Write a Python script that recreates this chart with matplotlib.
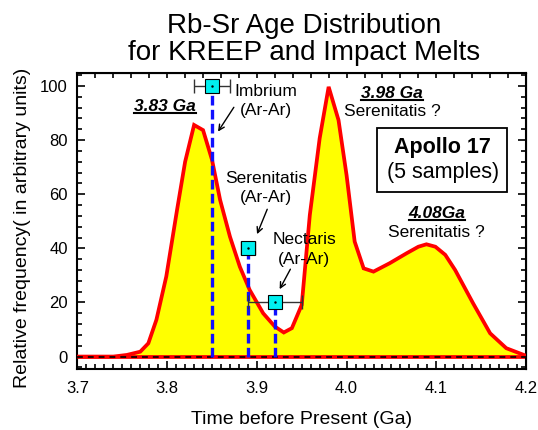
import matplotlib
matplotlib.use('Agg')
import matplotlib.pyplot as plt
from matplotlib.lines import Line2D
from matplotlib.patches import Rectangle
from matplotlib.ticker import MultipleLocator

plt.rcParams['font.family'] = ['Liberation Sans', 'DejaVu Sans']

# Rb-Sr age distribution curve (Ga, relative frequency)
age = [3.70, 3.74, 3.755, 3.770, 3.779, 3.788, 3.799, 3.811, 3.820, 3.830,
       3.840, 3.850, 3.859, 3.870, 3.881, 3.892, 3.907, 3.920, 3.930, 3.939,
       3.950, 3.959, 3.970, 3.980, 3.991, 4.000, 4.009, 4.019, 4.030, 4.048,
       4.067, 4.080, 4.089, 4.099, 4.110, 4.121, 4.141, 4.160, 4.178, 4.200]
freq = [0.0, 0.0, 0.6, 1.8, 4.9, 13.6, 29.6, 54.2, 72.0, 85.6,
        83.7, 72.7, 57.9, 44.3, 33.2, 24.6, 16.0, 11.1, 8.9, 10.5,
        19.1, 52.3, 80.7, 99.7, 87.4, 67.0, 42.5, 32.6, 31.4, 34.5,
        38.2, 40.6, 41.5, 40.6, 37.6, 32.0, 19.7, 8.6, 3.1, 0.3]

# Ar-Ar basin ages
basins = ['Imbrium', 'Serenitatis', 'Nectaris']
basin_age = [3.85, 3.89, 3.92]
basin_err = [0.02, 0.008, 0.03]
basin_y = [100, 40, 20]

fig = plt.figure(figsize=(5.38, 4.30), dpi=100)
ax = fig.add_axes([0.144, 0.1412, 0.8337, 0.6883])

ax.fill_between(age, 0, freq, color='#ffff00', lw=0, zorder=1)
ax.axhline(0, color='#ff0000', lw=2.7, zorder=2)
ax.plot(age, freq, color='#ff0000', lw=2.7, zorder=3, solid_joinstyle='miter')
ax.axhline(0, color='black', lw=1.2, ls=(0, (3.5, 3)), zorder=3.5)

for a, e, yv in zip(basin_age, basin_err, basin_y):
    ax.plot([a, a], [0, yv], color='#1010ff', lw=2.4, ls=(0, (2.9, 1.3)), zorder=4)
    ax.errorbar([a], [yv], xerr=[e], fmt='none', ecolor='#333333', elinewidth=1,
                capsize=5, capthick=1, zorder=5)
    ax.plot([a], [yv], marker='s', ms=9.5, mfc='#00f0f0', mec='black', mew=0.8,
            ls='none', zorder=6)
    ax.plot([a], [yv], marker='.', ms=1.5, color='black', ls='none', zorder=7)

fs = 12.5
# basin labels with arrows
ax.text(3.9101, 98.0, 'Imbrium', ha='center', va='center', fontsize=fs)
ax.text(3.9101, 90.9, '(Ar-Ar)', ha='center', va='center', fontsize=fs)
ax.annotate('', xy=(3.855, 82.3), xytext=(3.876, 93.0),
            arrowprops=dict(arrowstyle='->', color='black', lw=1))
ax.text(3.9104, 65.9, 'Serenitatis', ha='center', va='center', fontsize=fs)
ax.text(3.9104, 58.9, '(Ar-Ar)', ha='center', va='center', fontsize=fs)
ax.annotate('', xy=(3.899, 44.3), xytext=(3.9127, 55.4),
            arrowprops=dict(arrowstyle='->', color='black', lw=1))
ax.text(3.9528, 43.1, 'Nectaris', ha='center', va='center', fontsize=fs)
ax.text(3.9528, 35.9, '(Ar-Ar)', ha='center', va='center', fontsize=fs)
ax.annotate('', xy=(3.9239, 24.0), xytext=(3.9388, 33.2),
            arrowprops=dict(arrowstyle='->', color='black', lw=1))

# peak labels
peak_txt = []
peak_txt.append(ax.text(3.7975, 92.4, '3.83 Ga', ha='center', va='center',
                        fontsize=fs, fontweight='bold', fontstyle='italic'))
peak_txt.append(ax.text(4.051, 97.4, '3.98 Ga', ha='center', va='center',
                        fontsize=fs, fontweight='bold', fontstyle='italic'))
ax.text(4.0506, 90.7, 'Serenitatis ?', ha='center', va='center', fontsize=fs)
peak_txt.append(ax.text(4.1008, 52.7, '4.08Ga', ha='center', va='center',
                        fontsize=fs, fontweight='bold', fontstyle='italic'))
ax.text(4.1004, 45.8, 'Serenitatis ?', ha='center', va='center', fontsize=fs)

# Apollo 17 box
ax.add_patch(Rectangle((4.0342, 61.0), 0.1443, 23.4, fill=False, ec='black',
                       lw=1.3, zorder=8))
ax.text(4.107, 77.4, 'Apollo 17', ha='center', va='center', fontsize=15.5,
        fontweight='bold')
ax.text(4.1076, 68.0, '(5 samples)', ha='center', va='center', fontsize=15.5)

ax.set_xlim(3.7, 4.2)
ax.set_ylim(-4.7, 104.7)
ax.xaxis.set_major_locator(MultipleLocator(0.1))
ax.xaxis.set_minor_locator(MultipleLocator(0.01))
ax.yaxis.set_major_locator(MultipleLocator(20))
ax.yaxis.set_minor_locator(MultipleLocator(4))
ax.xaxis.set_major_formatter(plt.FuncFormatter(lambda v, p: f'{v:.1f}'))
ax.tick_params(which='both', direction='in', width=1.2, labelsize=12,
               top=False, right=False)
ax.tick_params(which='major', length=6)
ax.tick_params(which='minor', length=3.5)
ax.tick_params(axis='x', pad=8.5)
ax.tick_params(axis='y', pad=7)
for s in ax.spines.values():
    s.set_linewidth(1.5)

top = ax.secondary_xaxis('top')
top.xaxis.set_major_locator(MultipleLocator(0.02))
top.tick_params(direction='in', length=3.5, width=1.2, labeltop=False)
right = ax.secondary_yaxis('right')
right.yaxis.set_major_locator(MultipleLocator(20))
right.yaxis.set_minor_locator(MultipleLocator(4))
right.tick_params(which='major', direction='in', length=6, width=1.2, labelright=False)
right.tick_params(which='minor', direction='in', length=3.5, width=1.2)

fig.text(0.565, 0.9226, 'Rb-Sr Age Distribution', ha='center', va='baseline', fontsize=20)
fig.text(0.565, 0.8605, 'for KREEP and Impact Melts', ha='center', va='baseline', fontsize=20)
fig.text(0.561, 0.0133, 'Time before Present (Ga)', ha='center', va='baseline', fontsize=14)
fig.text(0.041, 0.47, 'Relative frequency( in arbitrary units)', ha='center',
         va='center', rotation=90, fontsize=14)

# underline the bold peak labels
fig.canvas.draw()
inv = fig.transFigure.inverted()
for t in peak_txt:
    bb = t.get_window_extent()
    (x0, y0), (x1, _) = inv.transform([[bb.x0, bb.y0 + 1], [bb.x1, bb.y0]])
    fig.add_artist(Line2D([x0, x1], [y0, y0], color='black', lw=1.5))

fig.savefig('out.png', dpi=100)
